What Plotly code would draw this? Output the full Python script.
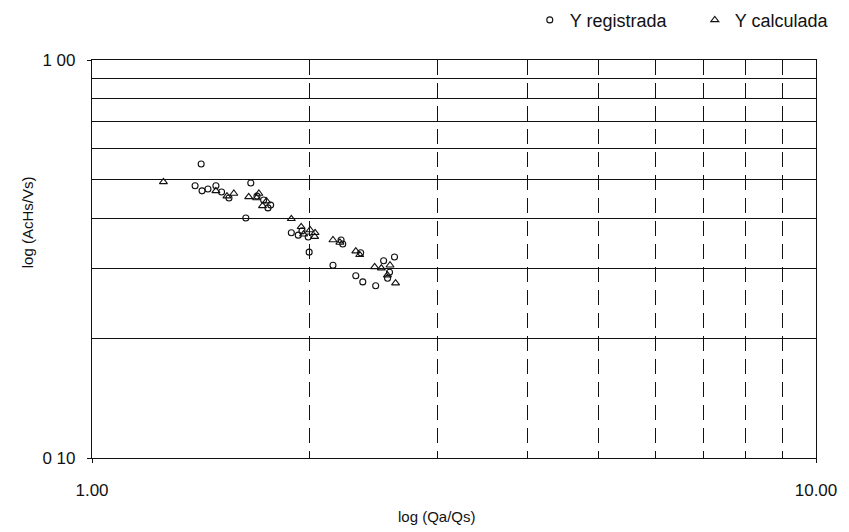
import plotly.graph_objects as go

# Recorded values (circles)
reg_x = [1.415, 1.388, 1.419, 1.446, 1.483, 1.546, 1.657, 1.631, 1.726, 1.765,
         1.885, 1.927, 1.989, 1.995, 2.152, 2.208, 2.314, 2.366, 2.465, 2.528,
         2.617, 2.576, 1.510, 1.690, 2.350, 1.750, 1.950, 2.560, 2.220]
reg_y = [0.548, 0.483, 0.469, 0.474, 0.483, 0.450, 0.491, 0.401, 0.445, 0.432,
         0.368, 0.363, 0.359, 0.329, 0.305, 0.353, 0.287, 0.277, 0.271, 0.313,
         0.320, 0.293, 0.466, 0.455, 0.328, 0.425, 0.372, 0.283, 0.345]

# Calculated values (triangles)
cal_x = [1.255, 1.483, 1.536, 1.646, 1.688, 1.742, 1.885, 1.945, 2.001, 2.033,
         2.152, 2.314, 2.343, 2.457, 2.559, 2.626, 2.510, 1.960, 1.720, 1.700,
         2.030, 2.580, 2.200, 1.570]
cal_y = [0.494, 0.469, 0.455, 0.453, 0.450, 0.442, 0.399, 0.381, 0.374, 0.368,
         0.353, 0.331, 0.324, 0.302, 0.288, 0.275, 0.300, 0.365, 0.430, 0.462,
         0.360, 0.305, 0.348, 0.462]

x_ticks = [1, 10]
x_tick_text = ["1.00", "10.00"]
y_ticks = [0.1, 1]
y_tick_text = ["0 10", "1 00"]
x_minor = [2, 3, 4, 5, 6, 7, 8, 9]
y_minor = [0.2, 0.3, 0.4, 0.5, 0.6, 0.7, 0.8, 0.9]

FONT = "Liberation Sans, Arial, sans-serif"
INK = "#111111"

fig = go.Figure()
fig.add_trace(go.Scatter(
    x=reg_x, y=reg_y, mode="markers", name="Y registrada",
    marker=dict(symbol="circle-open", size=6, color=INK, line=dict(width=1.1)),
))
fig.add_trace(go.Scatter(
    x=cal_x, y=cal_y, mode="markers", name="Y calculada",
    marker=dict(symbol="triangle-up-open", size=7, color=INK, line=dict(width=1.1)),
))

fig.update_layout(
    width=849, height=532,
    margin=dict(l=92, r=27, t=60, b=74),
    paper_bgcolor="white", plot_bgcolor="white",
    font=dict(family=FONT, size=15, color=INK),
    showlegend=True,
    legend=dict(
        orientation="h", x=0.624, xanchor="left", y=0.962, yanchor="middle",
        yref="container", xref="container", font=dict(size=18, color=INK),
        itemwidth=30, entrywidth=120, entrywidthmode="pixels",
        bgcolor="rgba(0,0,0,0)",
    ),
    xaxis=dict(
        type="log", range=[0, 1],
        tickmode="array", tickvals=x_ticks, ticktext=x_tick_text,
        ticks="outside", ticklen=4, tickcolor=INK,
        tickfont=dict(size=17), ticklabelstandoff=12,
        showline=True, linecolor=INK, linewidth=1.2, mirror=True,
        showgrid=False, zeroline=False,
        minor=dict(tickmode="array", tickvals=x_minor, showgrid=True,
                   gridcolor=INK, gridwidth=1, griddash="15px,8px", ticks=""),
    ),
    yaxis=dict(
        type="log", range=[-1, 0],
        tickmode="array", tickvals=y_ticks, ticktext=y_tick_text,
        ticks="outside", ticklen=4, tickcolor=INK,
        tickfont=dict(size=17), ticklabelstandoff=8,
        showline=True, linecolor=INK, linewidth=1.2, mirror=True,
        showgrid=False, zeroline=False,
        minor=dict(tickmode="array", tickvals=y_minor, showgrid=True,
                   gridcolor=INK, gridwidth=1, griddash="solid", ticks=""),
    ),
    annotations=[
        dict(text="log (Qa/Qs)", xref="paper", yref="paper", x=0.477, y=-0.148,
             showarrow=False, font=dict(size=15), xanchor="center", yanchor="middle"),
        dict(text="log (AcHs/Vs)", xref="paper", yref="paper", x=-0.088, y=0.593,
             showarrow=False, textangle=-90, font=dict(size=15),
             xanchor="center", yanchor="middle"),
    ],
)

fig.write_html("out.html")
